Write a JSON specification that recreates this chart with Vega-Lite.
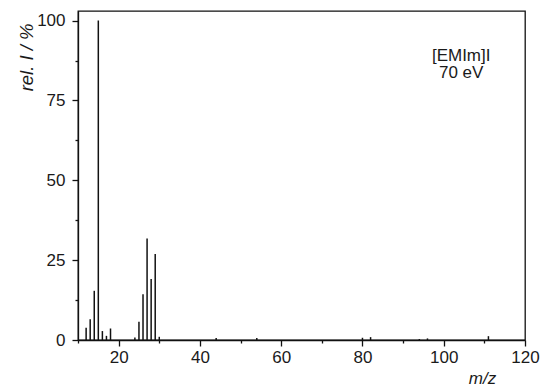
{
  "$schema": "https://vega.github.io/schema/vega-lite/v6.json",
  "width": 447,
  "height": 329,
  "autosize": {"type": "none"},
  "padding": {"left": 78, "top": 11, "right": 17, "bottom": 46},
  "background": "white",
  "config": {
    "font": "Liberation Sans",
    "view": {"stroke": "#111111", "strokeWidth": 1.3},
    "axis": {
      "domainColor": "#111111",
      "domainWidth": 1.3,
      "tickColor": "#111111",
      "tickWidth": 1.3,
      "grid": false,
      "labelFont": "Liberation Sans",
      "labelFontSize": 17,
      "labelColor": "#1a1a1a",
      "titleFont": "Liberation Sans",
      "titleFontSize": 17,
      "titleFontWeight": "normal",
      "titleFontStyle": "italic",
      "titleColor": "#1a1a1a"
    }
  },
  "layer": [
    {
      "data": {
        "values": [
          {"mz": 12, "rel": 3.8},
          {"mz": 13, "rel": 6.5},
          {"mz": 14, "rel": 15.4},
          {"mz": 15, "rel": 100},
          {"mz": 16, "rel": 2.8},
          {"mz": 17, "rel": 1.3},
          {"mz": 18, "rel": 3.6},
          {"mz": 24, "rel": 0.8},
          {"mz": 25, "rel": 5.7},
          {"mz": 26, "rel": 14.3},
          {"mz": 27, "rel": 31.8},
          {"mz": 28, "rel": 19.1},
          {"mz": 29, "rel": 26.9},
          {"mz": 30, "rel": 1.0},
          {"mz": 44, "rel": 0.6},
          {"mz": 54, "rel": 0.6},
          {"mz": 80, "rel": 0.7},
          {"mz": 82, "rel": 0.9},
          {"mz": 94, "rel": 0.3},
          {"mz": 96, "rel": 0.5},
          {"mz": 111, "rel": 1.2}
        ]
      },
      "mark": {"type": "rule", "color": "#111111", "strokeWidth": 1.5},
      "encoding": {
        "x": {
          "field": "mz",
          "type": "quantitative",
          "scale": {"domain": [10, 120], "nice": false, "zero": false},
          "axis": {
            "title": "m/z",
            "values": [10, 20, 30, 40, 50, 60, 70, 80, 90, 100, 110, 120],
            "labelExpr": "datum.value % 20 === 0 ? datum.label : ''",
            "tickSize": {"condition": {"test": "datum.value % 20 === 0", "value": 6}, "value": 3},
            "labelPadding": 3,
            "labelFlush": false,
            "labelOverlap": false,
            "titleX": 404,
            "titleY": 43,
            "titleAlign": "center",
            "titleBaseline": "alphabetic"
          }
        },
        "y": {
          "field": "rel",
          "type": "quantitative",
          "scale": {"domain": [0, 103], "nice": false},
          "axis": {
            "title": "rel. I / %",
            "values": [0, 12.5, 25, 37.5, 50, 62.5, 75, 87.5, 100],
            "labelExpr": "datum.value % 25 === 0 ? datum.label : ''",
            "tickSize": {"condition": {"test": "datum.value % 25 === 0", "value": 6}, "value": 3},
            "labelPadding": 7,
            "labelFlush": false,
            "labelOverlap": false,
            "titleFontSize": 18.5,
            "titleAngle": -90,
            "titleX": -46,
            "titleY": 12,
            "titleAlign": "right",
            "titleBaseline": "alphabetic"
          }
        },
        "y2": {"datum": 0}
      }
    },
    {
      "data": {
        "values": [
          {"mz": 104.3, "rel": 87.5, "label": "[EMIm]I"},
          {"mz": 104.3, "rel": 81.9, "label": "70 eV"}
        ]
      },
      "mark": {
        "type": "text",
        "font": "Liberation Sans",
        "fontSize": 17,
        "color": "#1a1a1a",
        "align": "center",
        "baseline": "alphabetic"
      },
      "encoding": {
        "x": {"field": "mz", "type": "quantitative"},
        "y": {"field": "rel", "type": "quantitative"},
        "text": {"field": "label"}
      }
    }
  ]
}
